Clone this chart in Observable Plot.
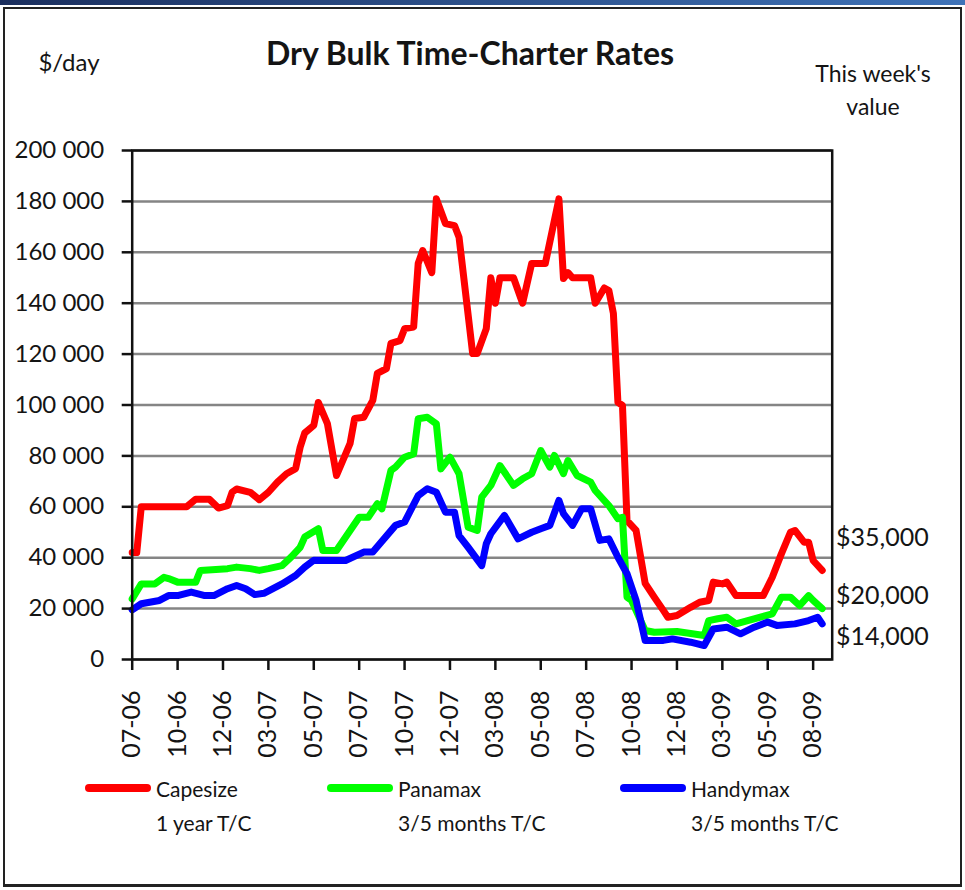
<!DOCTYPE html>
<html><head><meta charset="utf-8">
<script src="https://cdn.jsdelivr.net/npm/d3@7"></script>
<script src="https://cdn.jsdelivr.net/npm/@observablehq/plot@0.6"></script>
<style>
body{margin:0;background:#fff;}
#wrap{position:relative;width:965px;height:890px;overflow:hidden;font-family:Lato,"Open Sans",sans-serif;color:#141414;}
#strip{position:absolute;left:0;top:0;width:965px;height:5px;background:linear-gradient(90deg,#1b2f5e,#3f73b8);}
#border{position:absolute;left:3px;top:7px;width:959px;height:880px;border:2px solid #222;border-bottom-width:3px;box-sizing:border-box;}
#chart{position:absolute;left:0;top:0;}
.t{position:absolute;white-space:nowrap;line-height:1;font-family:Lato,"Open Sans",sans-serif;}
.lg{position:absolute;height:8px;border-radius:4px;}
</style></head><body>
<div id="wrap">
  <div id="strip"></div>
  <div id="border"></div>
  <div id="chart"></div>
</div>
<script>
// ---- data ----
const seriesNames = ["Capesize", "Panamax", "Handymax"];
const seriesSub = ["1 year T/C", "3/5 months T/C", "3/5 months T/C"];
const seriesColors = ["#ff0000", "#00ff00", "#0000ff"];
const thisWeek = ["$35,000", "$20,000", "$14,000"];

const weekTicks = [0,10,20,30,40,50,60,70,80,90,100,110,120,130,140,150];
const tickLabels = ["07-06","10-06","12-06","03-07","05-07","07-07","10-07","12-07","03-08","05-08","07-08","10-08","12-08","03-09","05-09","08-09"];
const yTicks = [0,20000,40000,60000,80000,100000,120000,140000,160000,180000,200000];

const capeWeeks = [0,1,2,12,14,17,19,21,22,23,26,28,30,32,34,36,37,38,40,41,43,45,48,49,51,53,54,56,57,59,60,62,63,64,66,67,69,71,72,75,76,78,79,80,81,84,86,88,91,94,95,96,97,101,102,104,105,106,107,108,109,111,113,115,117,118,120,123,125,127,128,130,131,133,139,141,143,145,146,148,149,150,152];
const capeRates = [42000,42000,60000,60000,63000,63000,59500,60500,65700,67000,65700,62800,65700,69700,73000,75000,83400,89000,92000,101000,92700,72300,84900,94700,95200,101800,112400,114300,124200,125300,130000,130600,155600,160700,152000,181000,171300,170500,165900,120200,120200,130000,150000,140000,150000,150000,140000,155600,155600,181000,149700,152000,150000,150000,140000,146000,145000,136000,101000,99800,54600,50700,29900,24500,19300,16600,17300,20500,22500,23200,30400,29700,30400,25100,25100,32300,41500,50000,50700,46100,46100,38900,35000];

const panaWeeks = [0,2,5,7,8,10,14,15,21,23,26,28,30,33,35,37,38,41,42,45,50,52,54,55,57,58,60,62,63,65,67,68,70,72,74,76,77,79,81,84,86,88,90,92,93,95,96,98,101,102,105,107,108,109,110,113,115,120,126,127,129,131,133,137,141,143,145,147,149,150,152];
const panaRates = [23800,29700,29700,32300,31800,30400,30400,35000,35700,36300,35700,35000,35700,36900,40200,44100,48100,51400,42800,42800,55900,55900,61200,59200,74300,75600,79500,80800,94600,95200,92600,74900,79500,73000,52000,50700,63800,68400,76200,68400,71000,73000,82100,75600,80200,73000,78200,72300,69700,66400,60500,55300,55900,24500,23200,11400,10700,11000,9400,15300,16000,16600,14000,16000,17900,24500,24500,21200,25100,23200,20000];

const handyWeeks = [0,2,6,8,10,13,16,18,21,23,25,27,29,33,36,38,40,47,51,53,58,60,63,65,67,69,71,72,74,77,78,79,82,85,88,90,92,94,95,97,99,101,103,105,107,109,111,113,117,119,123,126,128,131,134,137,140,142,146,149,151,152];
const handyRates = [19500,21900,23200,25100,25100,26500,25100,25100,27800,29100,27800,25500,26000,29700,33000,36300,39000,38900,42200,42200,52700,54000,64400,67100,65700,57900,57900,48700,44100,36900,45500,49400,56600,47400,50000,51400,52700,62500,57300,52700,59200,59200,46800,47400,40200,33700,23200,7500,7500,8100,6800,5500,12000,12700,10100,12700,14700,13400,14000,15300,16600,14000];

// ---- build rows ----
const rows = [];
[[capeWeeks, capeRates], [panaWeeks, panaRates], [handyWeeks, handyRates]].forEach(([w, r], s) => {
  w.forEach((wk, i) => rows.push({series: seriesNames[s], week: wk, rate: r[i]}));
});

const fmt = d => d3.format(",")(d).replace(/,/g, " ");

const chart = Plot.plot({
  width: 965, height: 890,
  marginLeft: 131.7, marginRight: 133.3, marginTop: 150, marginBottom: 231,
  x: {domain: [0, 154.2], label: null},
  y: {domain: [0, 200000], label: null},
  color: {domain: seriesNames, range: seriesColors},
  style: {fontFamily: "Lato, 'Open Sans', sans-serif", color: "#141414", background: "transparent", overflow: "visible"},
  marks: [
    Plot.gridY(yTicks, {stroke: "#858585", strokeOpacity: 1, strokeWidth: 2.5}),
    Plot.line(rows, {x: "week", y: "rate", z: "series", stroke: "series", strokeWidth: 7, strokeLinejoin: "round", strokeLinecap: "round"}),
    Plot.frame({stroke: "#111", strokeWidth: 2.5}),
    Plot.axisY({ticks: yTicks, tickFormat: fmt, tickSize: 10, tickPadding: 18, fontSize: 24, strokeWidth: 2.5, stroke: "#111"}),
    Plot.axisX({ticks: weekTicks, tickFormat: d => tickLabels[weekTicks.indexOf(d)], tickRotate: -90, tickSize: 11, tickPadding: 20, fontSize: 25, strokeWidth: 2.5, stroke: "#111"})
  ]
});
document.getElementById("chart").appendChild(chart);

// ---- annotations ----
const wrap = document.getElementById("wrap");
function addText(txt, x, y, size, anchor, weight) {
  const d = document.createElement("div");
  d.className = "t";
  d.textContent = txt;
  d.style.left = x + "px";
  d.style.top = y + "px";
  d.style.fontSize = size + "px";
  if (weight) d.style.fontWeight = weight;
  const tx = anchor === "middle" ? "-50%" : anchor === "end" ? "-100%" : "0";
  d.style.transform = `translate(${tx},-50%)`;
  wrap.appendChild(d);
}
addText("$/day", 69, 62, 24, "middle");
addText("Dry Bulk Time-Charter Rates", 470, 53, 32, "middle", 700);
addText("This week's", 873, 73, 23, "middle");
addText("value", 873, 106, 23, "middle");
const rightY = [536, 594, 635];
thisWeek.forEach((t, i) => addText(t, 836, rightY[i], 25, "start"));

const legX = [85, 327, 620];
seriesNames.forEach((n, i) => {
  const l = document.createElement("div");
  l.className = "lg";
  l.style.left = legX[i] + "px";
  l.style.top = (788 - 4) + "px";
  l.style.width = "66px";
  l.style.background = seriesColors[i];
  wrap.appendChild(l);
  addText(n, legX[i] + 71, 788, 21, "start");
  addText(seriesSub[i], legX[i] + 71, 822, 21, "start");
});
</script>
</body></html>
